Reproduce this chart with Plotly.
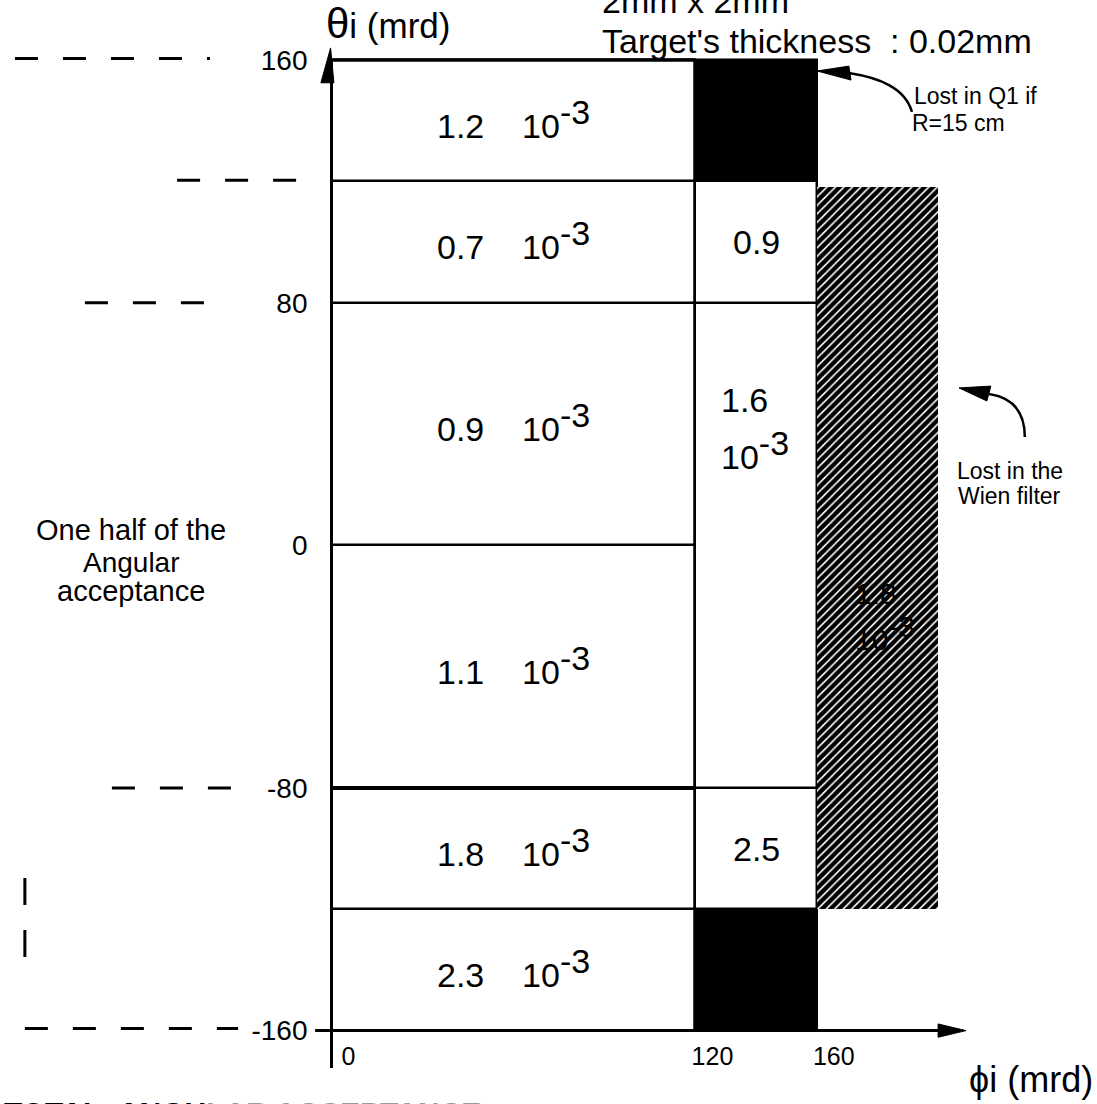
import plotly.graph_objects as go

# ---------------- data ----------------
theta_edges = [-160, -120, -80, 0, 80, 120, 160]          # mrd, column phi 0-120
inner_phi = [0, 120]
inner_values = [2.3, 1.8, 1.1, 0.9, 0.7, 1.2]             # x10^-3, bottom -> top
outer_phi = [120, 160]
outer_theta_edges = [-160, -120, -80, 80, 120, 160]
outer_values = [None, 2.5, 1.6, 0.9, None]                # None = lost in Q1 (black)
wien_phi = [160, 200]
wien_theta = [-120, 118]
wien_value = 1.8
exponent = -3
y_ticks = [-160, -80, 0, 80, 160]
y_ticktext = ["-160", "-80", "0", "80", "160"]
x_ticks = [0, 120, 160]
x_ticktext = ["0", "120", "160"]

FONT = "Liberation Sans, Arial, sans-serif"
NB = "\u00a0"


def sci(size):
    return f"10<sup><span style='font-size:{size}px'>{exponent}</span></sup>"


fig = go.Figure()

# inner column cells
ib = theta_edges[:-1]
ih = [b - a for a, b in zip(theta_edges[:-1], theta_edges[1:])]
fig.add_trace(go.Bar(
    x=[(inner_phi[0] + inner_phi[1]) / 2] * len(ib), y=ih, base=ib,
    width=inner_phi[1] - inner_phi[0],
    marker=dict(color="white", line=dict(color="black", width=2.5)),
    hoverinfo="skip"))

# outer column cells
ob = outer_theta_edges[:-1]
oh = [b - a for a, b in zip(outer_theta_edges[:-1], outer_theta_edges[1:])]
fig.add_trace(go.Bar(
    x=[(outer_phi[0] + outer_phi[1]) / 2] * len(ob), y=oh, base=ob,
    width=outer_phi[1] - outer_phi[0],
    marker=dict(color=["black" if v is None else "white" for v in outer_values],
                line=dict(color="black", width=2.5)),
    hoverinfo="skip"))

# Wien filter hatched region
fig.add_trace(go.Bar(
    x=[(wien_phi[0] + wien_phi[1]) / 2], y=[wien_theta[1] - wien_theta[0]],
    base=[wien_theta[0]], width=wien_phi[1] - wien_phi[0],
    marker=dict(color="white", line=dict(width=0),
                pattern=dict(shape="/", fgcolor="black", bgcolor="white",
                             size=6, solidity=0.74, fillmode="replace")),
    hoverinfo="skip"))

ann = []
# inner labels
for a, b, v in zip(theta_edges[:-1], theta_edges[1:], inner_values):
    ann.append(dict(x=(inner_phi[0] + inner_phi[1]) / 2, y=(a + b) / 2,
                    text=f"{v:.1f}" + NB * 4 + sci(34),
                    font=dict(size=34, family=FONT, color="black"),
                    showarrow=False, yshift=2))
# outer labels
for a, b, v in zip(outer_theta_edges[:-1], outer_theta_edges[1:], outer_values):
    if v is None:
        continue
    xc = (outer_phi[0] + outer_phi[1]) / 2
    if b - a > 100:  # tall cell: two-line label placed in upper half
        ann.append(dict(x=outer_phi[0] + 7.8, y=(a + b) / 2 + 48, text=f"{v:.1f}",
                        xanchor="left", font=dict(size=34, family=FONT, color="black"),
                        showarrow=False))
        ann.append(dict(x=outer_phi[0] + 7.8, y=(a + b) / 2 + 31.5, text=sci(34),
                        xanchor="left", font=dict(size=34, family=FONT, color="black"),
                        showarrow=False))
    else:
        ann.append(dict(x=xc, y=(a + b) / 2, text=f"{v:.1f}",
                        font=dict(size=34, family=FONT, color="black"), showarrow=False))
# hatched label (black on black hatch)
ann.append(dict(x=wien_phi[0] + 12, y=-16, text=f"{wien_value:.1f}", xanchor="left",
                font=dict(size=30, family=FONT, color="black"), showarrow=False))
ann.append(dict(x=wien_phi[0] + 12, y=-29, text=sci(30), xanchor="left",
                font=dict(size=30, family=FONT, color="black"), showarrow=False))

# titles / notes
ann += [
    dict(x=-2.5, y=172, text="<span style='font-size:42px'>θ</span>i (mrd)", xanchor="left",
         font=dict(size=35, family=FONT), showarrow=False),
    dict(x=88.5, y=172.5, text="2mm x 2mm", xanchor="left", yanchor="bottom",
         font=dict(size=34, family=FONT), showarrow=False),
    dict(x=88.5, y=166.3, text="Target's thickness" + NB * 2 + ": 0.02mm", xanchor="left",
         font=dict(size=34, family=FONT), showarrow=False),
    dict(x=191.4, y=148.1, text="Lost in Q1 if", xanchor="left",
         font=dict(size=23, family=FONT), showarrow=False),
    dict(x=190.8, y=139.2, text="R=15 cm", xanchor="left",
         font=dict(size=23, family=FONT), showarrow=False),
    dict(x=223.7, y=24.4, text="Lost in the",
         font=dict(size=23, family=FONT), showarrow=False),
    dict(x=223.7, y=16.4, text="Wien filter",
         font=dict(size=23, family=FONT), showarrow=False),
    dict(x=-66, y=5.0, text="One half of the", font=dict(size=29, family=FONT), showarrow=False),
    dict(x=-66, y=-5.6, text="Angular", font=dict(size=28, family=FONT), showarrow=False),
    dict(x=-66, y=-15.0, text="acceptance", font=dict(size=29, family=FONT), showarrow=False),
    dict(x=251.9, y=-183.5, text="ϕi (mrd)", xanchor="right", yanchor="bottom",
         font=dict(size=36, family=FONT), showarrow=False),
    dict(x=-108.5, y=-180.9, text="<b>TOTAL" + NB * 2 + "ANGU</b><span style='color:#9a9a9a'><b>LAR ACCEPTANCE</b></span>",
         xanchor="left", yanchor="top", font=dict(size=30, family=FONT), showarrow=False),
]
for a in ann:
    a.setdefault("font", {})
    a["font"].setdefault("color", "black")

shapes = []
# axes
shapes.append(dict(type="line", x0=-5.4, x1=201, y0=-160, y1=-160, line=dict(color="black", width=3)))
shapes.append(dict(type="path", path="M 209.2,-160 L 200,-157.8 L 200,-162.2 Z",
                   fillcolor="black", line=dict(color="black", width=1)))
shapes.append(dict(type="line", x0=0, x1=0, y0=-172.3, y1=155, line=dict(color="black", width=3)))
shapes.append(dict(type="path", path="M -0.3,164 L -3.5,152.5 L 0.8,152.5 Z",
                   fillcolor="black", line=dict(color="black", width=1)))
# thicker borders
shapes.append(dict(type="line", x0=0, x1=120, y0=160, y1=160, line=dict(color="black", width=3.5)))
shapes.append(dict(type="line", x0=0, x1=120, y0=-80, y1=-80, line=dict(color="black", width=4)))
# dashed guides on the left
for yv, x0, x1 in [(160.5, -120.2, -40.1), (120.4, -50.9, -11.4), (80, -81.3, -40.1),
                   (-80, -72.4, -32.8), (-159.3, -101.1, -30.8)]:
    shapes.append(dict(type="line", x0=x0, x1=x1, y0=yv, y1=yv,
                       line=dict(color="black", width=3, dash="23px,25px")))
shapes.append(dict(type="line", x0=-101.1, x1=-101.1, y0=-109.7, y1=-135.7,
                   line=dict(color="black", width=3, dash="27px,25px")))
# curved arrows
shapes.append(dict(type="path", path="M 170.6,155.7 C 180.8,154.1 189.1,150.8 191.4,142.9",
                   line=dict(color="black", width=2.5)))
shapes.append(dict(type="path", path="M 160.1,156.4 L 170.6,158.0 L 171.3,153.4 Z",
                   fillcolor="black", line=dict(color="black", width=1)))
shapes.append(dict(type="path", path="M 216.8,49.9 C 225.3,48.6 228.6,43.0 228.6,35.7",
                   line=dict(color="black", width=2.5)))
shapes.append(dict(type="path", path="M 206.9,51.9 L 217.4,52.5 L 216.1,47.6 Z",
                   fillcolor="black", line=dict(color="black", width=1)))

fig.update_layout(
    width=1097, height=1104, margin=dict(l=0, r=0, t=0, b=0),
    paper_bgcolor="white", plot_bgcolor="white", showlegend=False,
    barmode="overlay", bargap=0,
    annotations=ann, shapes=shapes,
    xaxis=dict(range=[-109.3, 252.4], showgrid=False, zeroline=False, showline=False,
               tickvals=x_ticks, ticktext=x_ticktext, ticks="", anchor="free", position=0.0665,
               tickfont=dict(size=25, family=FONT, color="black"),
               ticklabelshift=17, ticklabelstandoff=8, fixedrange=True),
    yaxis=dict(range=[-184.2, 179.8], showgrid=False, zeroline=False, showline=False,
               tickvals=y_ticks, ticktext=y_ticktext, ticks="", anchor="free", position=0.3022,
               tickfont=dict(size=28, family=FONT, color="black"),
               ticklabelstandoff=24, fixedrange=True),
)

fig.write_html("out.html")
